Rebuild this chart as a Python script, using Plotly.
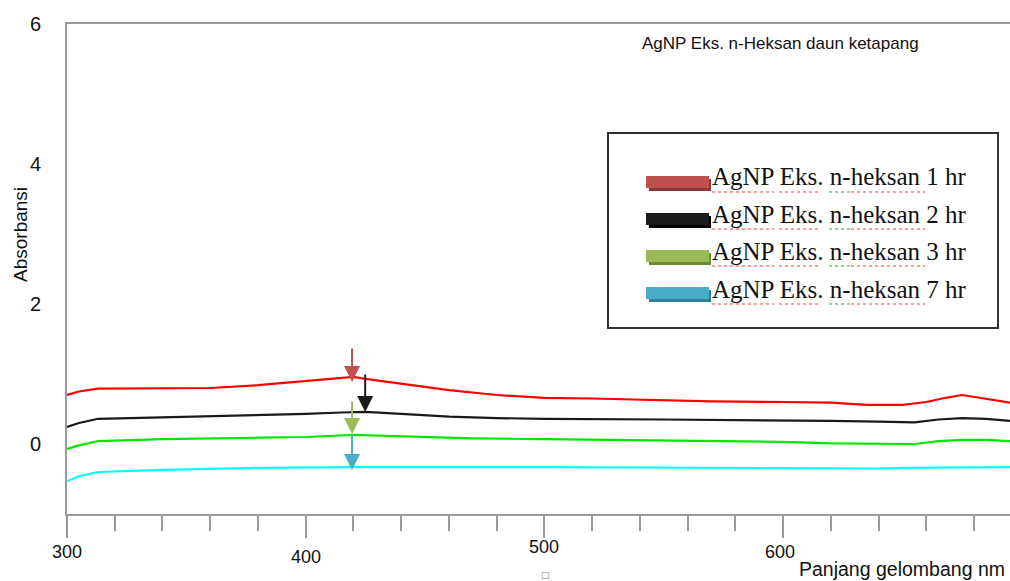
import plotly.graph_objects as go

# ---------------- data ----------------
wl_red = [300, 305, 313, 340, 360, 380, 398, 410, 420, 425, 440, 460, 480, 500, 520, 548, 570, 600, 620, 635, 650, 660, 668, 675, 685, 695]
ab_red = [0.70, 0.75, 0.79, 0.80, 0.80, 0.84, 0.89, 0.93, 0.96, 0.93, 0.86, 0.77, 0.70, 0.66, 0.65, 0.63, 0.61, 0.60, 0.59, 0.56, 0.56, 0.60, 0.66, 0.70, 0.65, 0.59]

wl_black = [300, 305, 313, 340, 380, 400, 415, 425, 440, 460, 480, 500, 550, 600, 620, 640, 655, 665, 675, 685, 695]
ab_black = [0.245, 0.30, 0.36, 0.38, 0.42, 0.43, 0.45, 0.46, 0.43, 0.39, 0.37, 0.36, 0.35, 0.34, 0.33, 0.32, 0.31, 0.35, 0.37, 0.36, 0.33]

wl_green = [300, 305, 313, 340, 380, 400, 420, 440, 470, 500, 550, 600, 620, 645, 655, 665, 675, 685, 695]
ab_green = [-0.07, -0.02, 0.04, 0.07, 0.09, 0.10, 0.13, 0.11, 0.08, 0.07, 0.05, 0.03, 0.01, 0.01, 0.00, 0.04, 0.06, 0.06, 0.04]

wl_cyan = [300, 305, 313, 340, 380, 420, 500, 600, 640, 650, 695]
ab_cyan = [-0.53, -0.46, -0.40, -0.37, -0.34, -0.33, -0.33, -0.34, -0.35, -0.34, -0.33]

series_names = ["AgNP Eks. n-heksan 1 hr", "AgNP Eks. n-heksan 2 hr",
                "AgNP Eks. n-heksan 3 hr", "AgNP Eks. n-heksan 7 hr"]
line_colors = ["#ff0000", "#1a1a1a", "#00e600", "#00ffff"]
legend_colors = ["#c0504d", "#1a1a1a", "#9bbb59", "#4bacc6"]
legend_shadow = ["#8c3836", "#000000", "#6f8a3a", "#2f7f96"]

# arrows marking peaks (tip positions)
arrow_x = [419.4, 424.9, 419.4, 419.4]
arrow_y = [0.886, 0.457, 0.143, -0.371]
arrow_len = [-35, -39, -34, -37]

x_tick_vals = [300, 400, 500, 600]
x_tick_text = ["300", "400", "500", "600"]
x_tick_label_py = [552, 557, 547, 552]
x_tick_label_dx = [0, 0, 0, -3]
y_tick_vals = [0, 2, 4, 6]

X_RANGE = [300, 695]
Y_RANGE = [-1, 6]

# ---------------- layout geometry (pixels) ----------------
W, H = 1010, 581
L, R, T, B = 67, 1010, 24, 514


def px(xp):
    return (xp - L) / (R - L)


def py(yp):
    return (B - yp) / (B - T)


fig = go.Figure()
for wl, ab, name, col in zip([wl_red, wl_black, wl_green, wl_cyan],
                             [ab_red, ab_black, ab_green, ab_cyan],
                             series_names, line_colors):
    fig.add_trace(go.Scatter(x=wl, y=ab, mode="lines", name=name,
                             line=dict(color=col, width=2.2), showlegend=False))

annotations = []
# arrows
for ax_, ay_, ln, col in zip(arrow_x, arrow_y, arrow_len, legend_colors):
    annotations.append(dict(x=ax_, y=ay_, xref="x", yref="y", text="",
                            showarrow=True, ax=0, ay=ln, arrowhead=2,
                            arrowsize=1.6, arrowwidth=2, arrowcolor=col))

# x tick labels (staggered as in the reference)
for v, t, yp, dx in zip(x_tick_vals, x_tick_text, x_tick_label_py, x_tick_label_dx):
    annotations.append(dict(x=v, y=py(yp), xref="x", yref="paper", text=t,
                            showarrow=False, xanchor="center", yanchor="middle",
                            xshift=dx,
                            font=dict(family="Liberation Sans, Arial", size=18, color="#111")))

# axis titles
annotations.append(dict(x=px(797), y=py(569), xref="paper", yref="paper",
                        text="Panjang gelombang nm", showarrow=False,
                        xanchor="left", yanchor="middle",
                        font=dict(family="Liberation Sans, Arial", size=19.5, color="#111")))
annotations.append(dict(x=px(21), y=py(235), xref="paper", yref="paper",
                        text="Absorbansi", showarrow=False, textangle=-90,
                        xanchor="center", yanchor="middle",
                        font=dict(family="Liberation Sans, Arial", size=19, color="#111")))
annotations.append(dict(x=px(545), y=py(575), xref="paper", yref="paper",
                        text="□", showarrow=False, xanchor="center", yanchor="middle",
                        font=dict(family="DejaVu Sans", size=9, color="#777")))
# chart title
annotations.append(dict(x=px(640), y=py(43), xref="paper", yref="paper",
                        text="AgNP Eks. n-Heksan daun ketapang", showarrow=False,
                        xanchor="left", yanchor="middle",
                        font=dict(family="Liberation Sans, Arial", size=17, color="#111")))

shapes = []
# legend box
shapes.append(dict(type="rect", xref="paper", yref="paper",
                   x0=px(608), x1=px(998), y0=py(328), y1=py(133),
                   line=dict(color="#333", width=2), fillcolor="white", layer="above"))
row_text_y = [177, 214, 251, 289]
row_bar_top = [176, 213, 250, 287]
for i, name in enumerate(series_names):
    top = row_bar_top[i]
    # shadow
    shapes.append(dict(type="rect", xref="paper", yref="paper",
                       x0=px(649), x1=px(711), y0=py(top + 15), y1=py(top + 3),
                       line=dict(width=0), fillcolor=legend_shadow[i], layer="above"))
    shapes.append(dict(type="rect", xref="paper", yref="paper",
                       x0=px(646), x1=px(709), y0=py(top + 12), y1=py(top),
                       line=dict(width=0), fillcolor=legend_colors[i], layer="above"))
    annotations.append(dict(x=px(710), y=py(row_text_y[i]), xref="paper", yref="paper",
                            text=name, showarrow=False, xanchor="left", yanchor="middle",
                            font=dict(family="Liberation Serif, Times New Roman", size=25,
                                      color="#111")))
    # spell-check style underlines
    uy = py(row_text_y[i] + 15)
    for x0, x1, c in [(712, 774, "#ff3b3b"), (779, 820, "#ff3b3b"),
                      (829, 851, "#2aa52a"), (851, 925, "#ff3b3b")]:
        shapes.append(dict(type="line", xref="paper", yref="paper",
                           x0=px(x0), x1=px(x1), y0=uy, y1=uy,
                           line=dict(color=c, width=1.2, dash="dot"), layer="above"))

fig.update_layout(
    width=W, height=H,
    margin=dict(l=L, r=W - R, t=T, b=H - B, pad=0),
    paper_bgcolor="white", plot_bgcolor="white",
    annotations=annotations, shapes=shapes,
    showlegend=False,
)
fig.update_xaxes(range=X_RANGE, showgrid=False, zeroline=False,
                 showline=True, linecolor="#9a9a9a", linewidth=2, mirror=True,
                 tickmode="array", tickvals=x_tick_vals, ticks="outside",
                 ticklen=22, tickwidth=1.5, tickcolor="#9a9a9a", showticklabels=False,
                 minor=dict(ticks="outside", ticklen=15, tickwidth=1.5,
                            tickcolor="#9a9a9a", dtick=20, tick0=300))
fig.update_yaxes(range=Y_RANGE, showgrid=False, zeroline=False,
                 showline=True, linecolor="#9a9a9a", linewidth=2,
                 tickmode="array", tickvals=y_tick_vals, ticks="", ticklabelstandoff=20,
                 tickfont=dict(family="Liberation Sans, Arial", size=20, color="#111"))

fig.write_html("out.html", config={"displayModeBar": False},
               post_script="document.body.style.margin='0';document.body.style.overflow='hidden';")
